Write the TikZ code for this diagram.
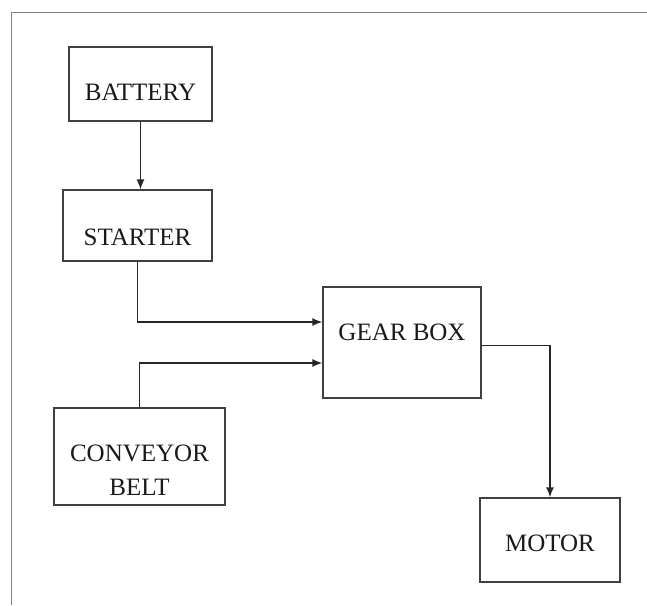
\documentclass[tikz,border=0pt]{standalone}
\usepackage{fontspec}
\setmainfont{Liberation Serif}
\usetikzlibrary{arrows.meta}
\begin{document}
\begin{tikzpicture}[x=1pt,y=-1pt,
  blk/.style={draw=black!75, line width=1.3pt, rectangle, inner sep=0pt, font=\fontsize{25}{34}\selectfont, text=black!90},
  arr/.style={draw=black!85, line width=1.4pt, -{Latex[length=10pt,width=8pt]}},
  frm/.style={draw=black!50, line width=1pt}]
\useasboundingbox (0,0) rectangle (647,605);
\coordinate (fa) at (11,605);
\coordinate (fb) at (11,12);
\coordinate (fc) at (647,12);
\draw[frm] (fa) -- (fb) -- (fc);
\node[blk, minimum width=143pt, minimum height=74pt, text height=32pt, text depth=0pt] (bat) at (140.5,84) {BATTERY};
\node[blk, minimum width=149pt, minimum height=71pt, text height=39pt, text depth=0pt] (sta) at (137.5,225.5) {STARTER};
\node[blk, minimum width=158pt, minimum height=111pt, text height=0pt, text depth=5pt] (gear) at (402,342.5) {GEAR BOX};
\node[blk, minimum width=140pt, minimum height=84pt, text height=22pt, text depth=0pt] (mot) at (550,540) {MOTOR};
\node[blk, minimum width=171pt, minimum height=97pt, align=center, text height=77pt, text depth=0pt] (conv) at (139.5,456.5) {CONVEYOR\\BELT};
\draw[arr] (bat.south) -- (bat.south |- sta.north);
\draw[arr] (sta.south) |- ([yshift=20.5pt]gear.west);
\draw[arr] (conv.north) |- ([yshift=-20.5pt]gear.west);
\draw[arr] ([yshift=-3pt]gear.east) -| (mot.north);
\end{tikzpicture}
\end{document}
